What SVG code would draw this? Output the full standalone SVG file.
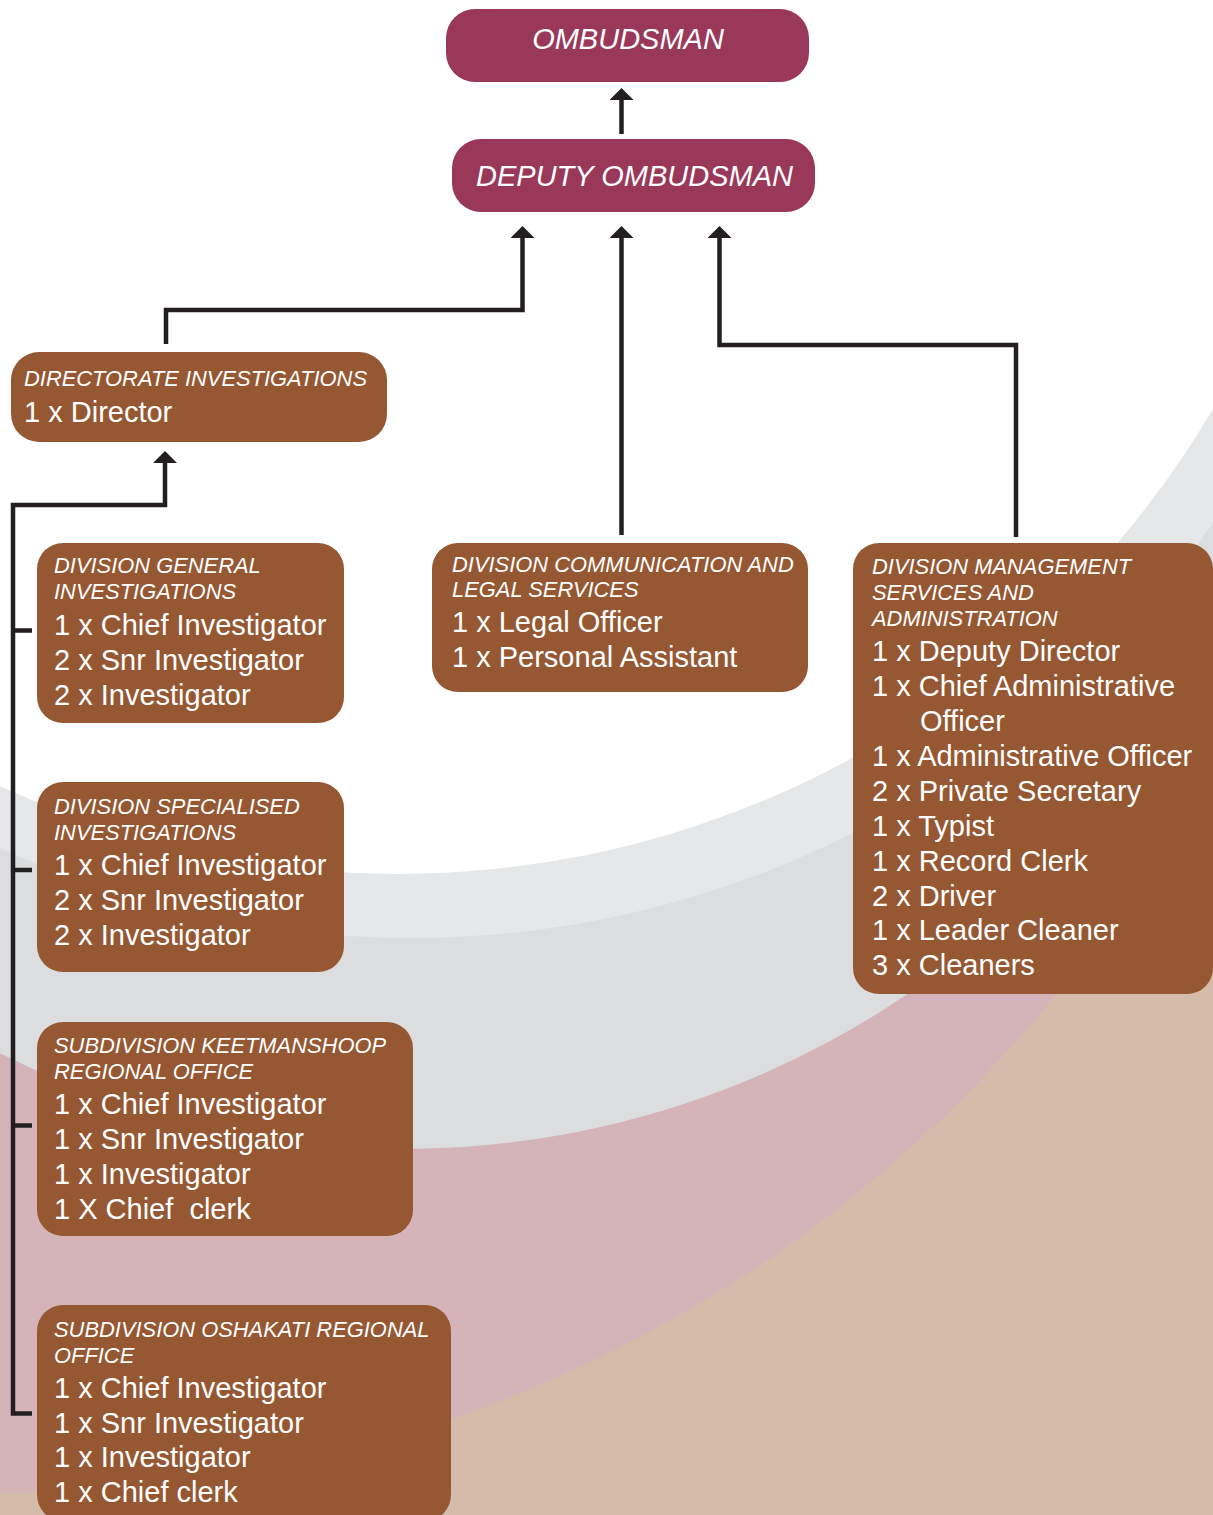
<svg xmlns="http://www.w3.org/2000/svg" width="1213" height="1515" viewBox="0 0 1213 1515">
<defs>
<style>
.top{fill:#9a385a}
.box{fill:#965833}
.h{font-family:"Liberation Sans",Arial,sans-serif;font-style:italic;font-size:29px;fill:#fff;text-anchor:middle}
.t{font-family:"Liberation Sans",Arial,sans-serif;font-style:italic;font-size:21.9px;fill:#fff}
.b{font-family:"Liberation Sans",Arial,sans-serif;font-size:29px;fill:#fff}
.c{fill:none;stroke:#231f20;stroke-width:4.5;stroke-linejoin:miter}
</style>
<marker id="ah" markerUnits="userSpaceOnUse" markerWidth="12" markerHeight="24" viewBox="0 0 12 24" refX="0" refY="12" orient="auto">
<path d="M0,0 L12,12 L0,24 Z" fill="#231f20"/>
</marker>
</defs>
<g id="background">
<rect x="0" y="0" width="1213" height="1515" fill="#d5bba9"/>
<circle cx="10.6" cy="148.1" r="1345" fill="#d4b4b9"/>
<circle cx="403.4" cy="250.9" r="898" fill="#dcdddf"/>
<circle cx="411" cy="-44.4" r="982.5" fill="#e6e7e8"/>
<circle cx="398.3" cy="-72.5" r="946.4" fill="#ffffff"/>
</g>
<g id="connectors">
<path class="c" d="M621.5,134 V100" marker-end="url(#ah)"/>
<path class="c" d="M166,344 V310 H522.5 V238" marker-end="url(#ah)"/>
<path class="c" d="M621.5,535 V238" marker-end="url(#ah)"/>
<path class="c" d="M1016,537 V345 H719.5 V238" marker-end="url(#ah)"/>
<path class="c" d="M32,1413.5 H13 V505 H165 V463" marker-end="url(#ah)"/>
<path class="c" d="M13,630.5 H32 M13,870 H32 M13,1125.5 H32"/>
</g>
<g id="ombudsman">
<rect class="top" x="446" y="9" width="363" height="73" rx="29"/>
<text class="h" x="628" y="49">OMBUDSMAN</text>
</g>
<g id="deputy-ombudsman">
<rect class="top" x="452" y="139" width="363" height="73" rx="29"/>
<text class="h" x="634.5" y="186">DEPUTY OMBUDSMAN</text>
</g>
<g id="directorate-investigations">
<rect class="box" x="11" y="352" width="376" height="90" rx="28"/>
<text class="t" x="24" y="386">DIRECTORATE INVESTIGATIONS</text>
<text class="b" x="24" y="422">1 x Director</text>
</g>
<g id="division-general-investigations">
<rect class="box" x="37" y="543" width="307" height="180" rx="26"/>
<text class="t" x="54" y="573">DIVISION GENERAL</text>
<text class="t" x="54" y="599">INVESTIGATIONS</text>
<text class="b" x="54" y="635">1 x Chief Investigator</text>
<text class="b" x="54" y="670">2 x Snr Investigator</text>
<text class="b" x="54" y="705">2 x Investigator</text>
</g>
<g id="division-specialised-investigations">
<rect class="box" x="37" y="782" width="307" height="190" rx="26"/>
<text class="t" x="54" y="814">DIVISION SPECIALISED</text>
<text class="t" x="54" y="840">INVESTIGATIONS</text>
<text class="b" x="54" y="875">1 x Chief Investigator</text>
<text class="b" x="54" y="910">2 x Snr Investigator</text>
<text class="b" x="54" y="945">2 x Investigator</text>
</g>
<g id="subdivision-keetmanshoop">
<rect class="box" x="37" y="1022" width="376" height="214" rx="26"/>
<text class="t" x="54" y="1053">SUBDIVISION KEETMANSHOOP</text>
<text class="t" x="54" y="1079">REGIONAL OFFICE</text>
<text class="b" x="54" y="1114">1 x Chief Investigator</text>
<text class="b" x="54" y="1149">1 x Snr Investigator</text>
<text class="b" x="54" y="1184">1 x Investigator</text>
<text class="b" x="54" y="1219" xml:space="preserve">1 X Chief  clerk</text>
</g>
<g id="subdivision-oshakati">
<rect class="box" x="37" y="1305" width="414" height="216" rx="26"/>
<text class="t" x="54" y="1337">SUBDIVISION OSHAKATI REGIONAL</text>
<text class="t" x="54" y="1363">OFFICE</text>
<text class="b" x="54" y="1398">1 x Chief Investigator</text>
<text class="b" x="54" y="1433">1 x Snr Investigator</text>
<text class="b" x="54" y="1467">1 x Investigator</text>
<text class="b" x="54" y="1502">1 x Chief clerk</text>
</g>
<g id="division-communication-legal">
<rect class="box" x="432" y="543" width="376" height="149" rx="26"/>
<text class="t" x="452" y="572">DIVISION COMMUNICATION AND</text>
<text class="t" x="452" y="597">LEGAL SERVICES</text>
<text class="b" x="452" y="632">1 x Legal Officer</text>
<text class="b" x="452" y="667">1 x Personal Assistant</text>
</g>
<g id="division-management-services">
<rect class="box" x="853" y="543" width="360" height="451" rx="26"/>
<text class="t" x="872" y="574">DIVISION MANAGEMENT</text>
<text class="t" x="872" y="600">SERVICES AND</text>
<text class="t" x="872" y="626">ADMINISTRATION</text>
<text class="b" x="872" y="661">1 x Deputy Director</text>
<text class="b" x="872" y="696">1 x Chief Administrative</text>
<text class="b" x="920" y="731">Officer</text>
<text class="b" x="872" y="766">1 x Administrative Officer</text>
<text class="b" x="872" y="801">2 x Private Secretary</text>
<text class="b" x="872" y="836">1 x Typist</text>
<text class="b" x="872" y="871">1 x Record Clerk</text>
<text class="b" x="872" y="906">2 x Driver</text>
<text class="b" x="872" y="940">1 x Leader Cleaner</text>
<text class="b" x="872" y="975">3 x Cleaners</text>
</g>
</svg>
